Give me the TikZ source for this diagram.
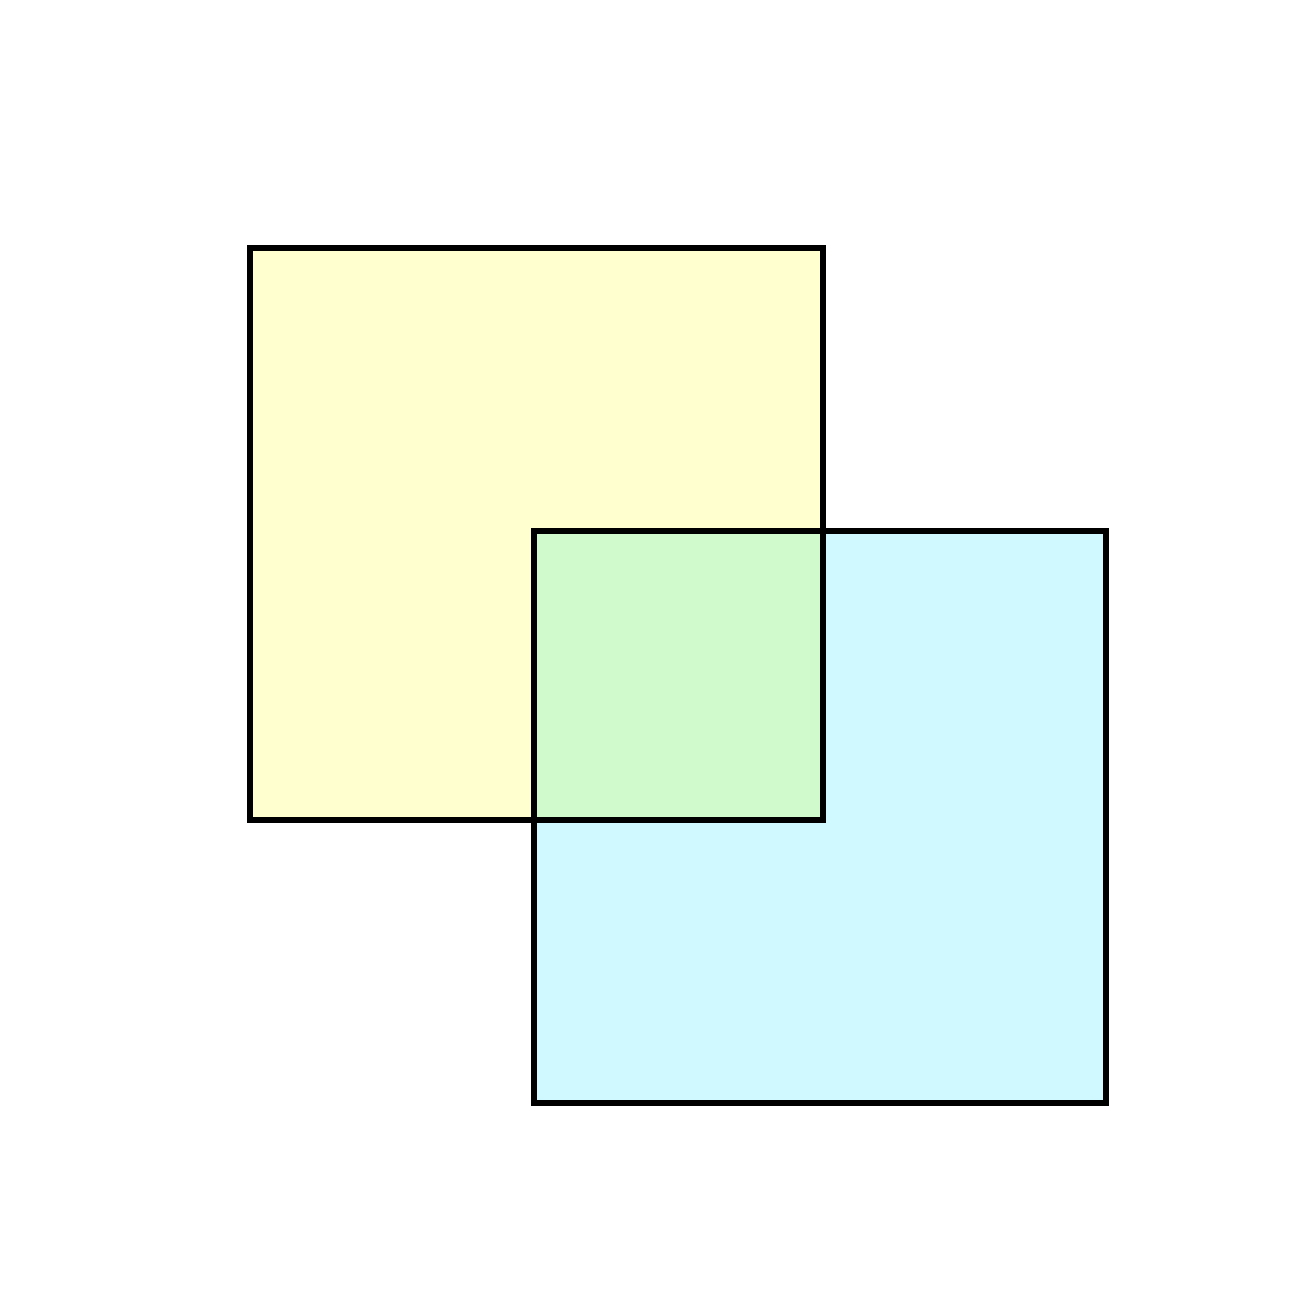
\documentclass[tikz,border=0pt]{standalone}
\definecolor{sqyellow}{RGB}{255,255,208}
\definecolor{sqblue}{RGB}{208,248,255}
\definecolor{sqgreen}{RGB}{208,250,204}
\begin{document}
\begin{tikzpicture}[x=0.01cm,y=-0.01cm,
  outline/.style={draw=black,line width=0.06cm,line join=miter}]
\useasboundingbox (0,0) rectangle (1300,1300);
\fill[white] (0,0) rectangle (1300,1300);
% fills
\fill[sqyellow] (249.5,248) rectangle (822.5,819.5);
\fill[sqblue] (533.5,530.5) rectangle (1105.5,1102.5);
\fill[sqgreen] (533.5,530.5) rectangle (822.5,819.5);
% outlines
\draw[outline] (249.5,248) rectangle (822.5,819.5);
\draw[outline] (533.5,530.5) rectangle (1105.5,1102.5);
\end{tikzpicture}
\end{document}
